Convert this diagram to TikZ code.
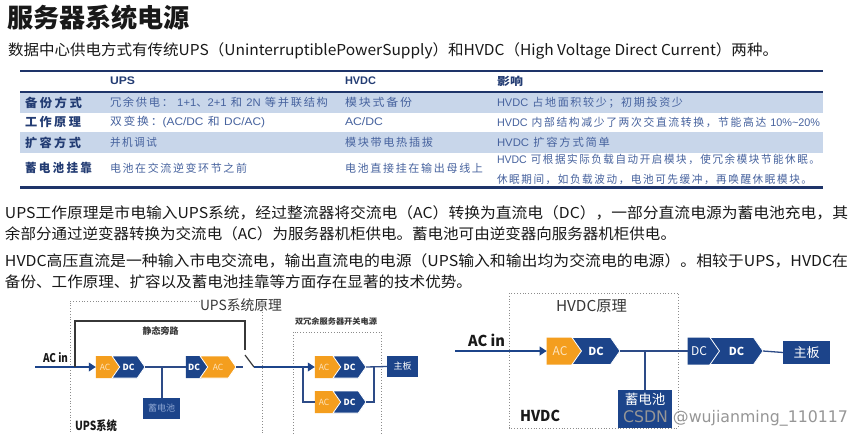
\documentclass[tikz,border=0pt]{standalone}
\usepackage{fontspec}
\usepackage{graphicx}
\setmainfont{Noto Sans CJK SC}
\newfontfamily\cjkt[LetterSpace=15]{Noto Sans CJK SC}
\newfontfamily\cjkh[LetterSpace=20]{Noto Sans CJK SC}
\newfontfamily\latf{Liberation Sans}
\newfontfamily\wmf{DejaVu Sans}
\usetikzlibrary{shapes.symbols,arrows.meta}
\definecolor{ink}{RGB}{25,25,25}
\definecolor{ink2}{RGB}{55,55,55}
\definecolor{navy}{RGB}{30,52,105}
\definecolor{tabfill}{RGB}{200,214,234}
\definecolor{tabtext}{RGB}{70,98,158}
\definecolor{tabhead}{RGB}{35,60,115}
\definecolor{bblue}{RGB}{28,68,138}
\definecolor{borange}{RGB}{244,158,30}
\definecolor{lightor}{RGB}{253,228,190}
\definecolor{battxt}{RGB}{140,165,210}
\definecolor{wire}{RGB}{45,75,135}
\definecolor{dotgray}{RGB}{140,140,140}
\definecolor{wmgray}{RGB}{150,150,150}
\newcommand\fw[2]{\resizebox{#1}{\height}{#2}}
\newcommand\fs[1]{\fontsize{#1}{#1}\selectfont}
\begin{document}
\begin{tikzpicture}[x=1pt,y=-1pt,
  txt/.style={anchor=west, inner sep=0pt, outer sep=0pt},
  ctxt/.style={inner sep=0pt, outer sep=0pt},
  tc1/.style={txt, font=\fs{12}\cjkh\bfseries, text=tabhead},
  tcell/.style={txt, font=\fs{11}\cjkt, text=tabtext},
  thead/.style={txt, font=\fs{11}\bfseries, text=tabhead},
  blk/.style={signal, signal to=east, signal pointer angle=110, inner sep=0pt, outer sep=0pt, minimum height=22pt, text=white},
  notch/.style={signal from=west, draw=white, line width=0.8pt},
  acblk/.style={blk, fill=borange, text=lightor},
  dcblk/.style={blk, fill=bblue, text=white},
  boxblk/.style={rectangle, fill=bblue, inner sep=0pt, outer sep=0pt, text=white},
  wireline/.style={draw=wire, line width=1.3pt},
  bigarrow/.style={draw=bblue, line width=2.6pt, -{Triangle[length=7pt,width=8.5pt]}},
  dotbox/.style={draw=dotgray, line width=0.8pt, dotted}]
\useasboundingbox (0,0) rectangle (865,434);
\fill[white] (0,0) rectangle (865,434);

% ---------- heading ----------
\node[txt, font=\fs{26}\bfseries, text=ink] (title) at (7,18) {\fw{183pt}{服务器系统电源}};
\node[txt, font=\fs{15}, text=ink] (intro) at (8,51) {\fw{770pt}{数据中心供电方式有传统UPS（UninterruptiblePowerSupply）和HVDC（High Voltage Direct Current）两种。}};

% ---------- table ----------
\fill[tabfill] (20,92) rectangle (823,113);
\fill[tabfill] (20,132) rectangle (823,153);
\draw[navy, line width=1.8pt] (20,71) -- (823,71);
\draw[navy, line width=2pt] (20,91.5) -- (823,91.5);
\draw[navy, line width=2.6pt] (20,187.5) -- (823,187.5);

\node[thead] (h2) at (110,81) {\fw{25pt}{\latf UPS}};
\node[thead] (h3) at (345,81) {\fw{31pt}{\latf HVDC}};
\node[thead] (h4) at (497,81) {\fw{26pt}{影响}};

\node[tc1] (r1c1) at (25,102.5) {\fw{57pt}{备份方式}};
\node[tcell] (r1c2) at (110,102.5) {\fw{218pt}{冗余供电：\ {\latf 1+1}、{\latf 2+1} 和 {\latf 2N} 等并联结构}};
\node[tcell] (r1c3) at (345,102.5) {\fw{67pt}{模块式备份}};
\node[tcell] (r1c4) at (497,102.5) {\fw{186pt}{{\latf HVDC} 占地面积较少；初期投资少}};

\node[tc1] (r2c1) at (25,122) {\fw{56pt}{工作原理}};
\node[tcell] (r2c2) at (110,122) {\fw{155pt}{双变换：{\latf (AC/DC} 和 {\latf DC/AC)}}};
\node[tcell] (r2c3) at (345,122) {\fw{38pt}{\latf AC/DC}};
\node[tcell] (r2c4) at (497,122) {\fw{323pt}{{\latf HVDC} 内部结构减少了两次交直流转换，节能高达 {\latf 10\%\textasciitilde20\%}}};

\node[tc1] (r3c1) at (25,142.5) {\fw{56pt}{扩容方式}};
\node[tcell] (r3c2) at (110,142.5) {\fw{47pt}{并机调试}};
\node[tcell] (r3c3) at (345,142.5) {\fw{88pt}{模块带电热插拔}};
\node[tcell] (r3c4) at (497,142.5) {\fw{113pt}{{\latf HVDC} 扩容方式简单}};

\node[tc1] (r4c1) at (25,168) {\fw{67pt}{蓄电池挂靠}};
\node[tcell] (r4c2) at (110,168) {\fw{137pt}{电池在交流逆变环节之前}};
\node[tcell] (r4c3) at (345,168) {\fw{138pt}{电池直接挂在输出母线上}};
\node[tcell] (r4c4a) at (497,159) {\fw{323pt}{{\latf HVDC} 可根据实际负载自动开启模块，使冗余模块节能休眠。}};
\node[tcell] (r4c4b) at (497,179) {\fw{315pt}{休眠期间，如负载波动，电池可先缓冲，再唤醒休眠模块。}};

% ---------- paragraphs ----------
\node[txt, font=\fs{15}, text=ink] (p1) at (5,213) {\fw{843pt}{UPS工作原理是市电输入UPS系统，经过整流器将交流电（AC）转换为直流电（DC），一部分直流电源为蓄电池充电，其}};
\node[txt, font=\fs{15}, text=ink] (p2) at (5,234) {\fw{671pt}{余部分通过逆变器转换为交流电（AC）为服务器机柜供电。蓄电池可由逆变器向服务器机柜供电。}};
\node[txt, font=\fs{15}, text=ink] (p3) at (5,261) {\fw{843pt}{HVDC高压直流是一种输入市电交流电，输出直流电的电源（UPS输入和输出均为交流电的电源）。相较于UPS，HVDC在}};
\node[txt, font=\fs{15}, text=ink] (p4) at (5,282) {\fw{467pt}{备份、工作原理、扩容以及蓄电池挂靠等方面存在显著的技术优势。}};

% ---------- UPS diagram ----------
\draw[dotbox] (200,301) -- (70,301) -- (70,434);
\draw[dotbox] (262,312) -- (262,434);
\draw[dotbox] (293,434) -- (293,332) -- (381,332) -- (381,434);
\node[txt, font=\fs{14}, text=ink2] (upstitle) at (200,305) {\fw{82pt}{UPS系统原理}};
\node[txt, font=\fs{8}\bfseries, text=ink2] (dualtitle) at (295,321) {\fw{82pt}{双冗余服务器开关电源}};
\node[ctxt, font=\fs{9}\bfseries, text=ink2] (bypasslbl) at (160.5,331) {静态旁路};
\node[txt, font=\fs{12}\bfseries, text=ink] (acin1) at (43,358) {\fw{25pt}{AC in}};
\node[txt, font=\fs{12.5}\bfseries, text=ink] (upssys) at (75,426) {\fw{42pt}{UPS系统}};

\node[acblk, minimum width=26pt, font=\fs{8.5}] (ac1) at (105,367) {AC};
\node[dcblk, notch, minimum width=33pt, font=\fs{8.5}\bfseries] (dc1) at (128.5,367) {DC};
\node[dcblk, minimum width=24pt, font=\fs{8.5}\bfseries] (dc2) at (194,367) {DC};
\node[acblk, notch, minimum width=36pt, font=\fs{8.5}] (ac2) at (218,367) {AC};
\node[boxblk, minimum width=37pt, minimum height=21pt, text=battxt, font=\fs{9}] (bat1) at (161.5,408.5) {蓄电池};

\coordinate (in1) at (35,367);
\coordinate (j1) at (162,367);
\coordinate (bp0) at (75,367);
\coordinate (bp1) at (245,321);
\coordinate (sw0) at (245,350);
\coordinate (swin) at (243,367);
\coordinate (bla) at (245,355);
\coordinate (blb) at (254,367);

\draw[bigarrow] (in1) -- (ac1.west);
\draw[wireline] (dc1.east) -- (dc2.west);
\draw[wireline] (j1) -- (j1 |- bat1.north);
\draw[draw=ink2, line width=1.2pt] (bp0) |- (bp1) -- (sw0);
\draw[wireline] (ac2.east) -- (swin);
\draw[draw=ink2, line width=1.2pt] (bla) -- (blb);

\node[acblk, minimum width=26pt, font=\fs{8.5}] (ac3) at (324,367) {AC};
\node[dcblk, notch, minimum width=33pt, font=\fs{8.5}\bfseries] (dc3) at (349.5,367) {DC};
\node[acblk, minimum width=26pt, font=\fs{8.5}] (ac4) at (324,402) {AC};
\node[dcblk, notch, minimum width=33pt, font=\fs{8.5}\bfseries] (dc4) at (349.5,402) {DC};
\node[boxblk, minimum width=31pt, minimum height=21pt, font=\fs{9}] (mb1) at (402.5,366.5) {主板};

\coordinate (br) at (303,367);
\coordinate (mg) at (374,367);
\draw[bigarrow] (blb) -- (ac3.west);
\draw[wireline] (br) |- (ac4.west);
\draw[wireline] (dc3.east) -- (mb1.west);
\draw[wireline] (dc4.east) -| (mg);

% ---------- HVDC diagram ----------
\draw[dotbox] (509,293) rectangle (678,428);
\node[ctxt, font=\fs{15}, text=ink2] (hvdctitle) at (591.5,306) {\fw{71pt}{HVDC原理}};
\node[txt, font=\fs{15}\bfseries, text=ink] (acin2) at (468,340) {\fw{37pt}{AC in}};
\node[txt, font=\fs{15}\bfseries, text=ink] (hvdclbl) at (520,416) {\fw{40pt}{HVDC}};

\node[acblk, minimum width=36pt, minimum height=27pt, font=\fs{12}] (hac) at (560,351) {AC};
\node[dcblk, notch, minimum width=48pt, minimum height=27pt, font=\fs{11}\bfseries] (hdc) at (596,351) {DC};
\node[dcblk, minimum width=32pt, minimum height=27pt, font=\fs{12}] (hdc1) at (699,351) {DC};
\node[dcblk, notch, minimum width=53pt, minimum height=27pt, font=\fs{11}\bfseries] (hdc2) at (736.5,351) {DC};
\node[boxblk, minimum width=47pt, minimum height=23pt, font=\fs{13}] (hmb) at (806.5,352.5) {主板};
\node[boxblk, minimum width=54pt, minimum height=38pt] (hbat) at (645,409) {};
\node[ctxt, font=\fs{13.5}, text=white] (hbatlbl) at (645,399) {蓄电池};

\coordinate (in2) at (455,351);
\coordinate (hj) at (645,351);
\draw[bigarrow] (in2) -- (hac.west);
\draw[wireline] (hdc.east) -- (hdc1.west);
\draw[wireline] (hj) -- (hbat.north);
\draw[wireline] (hdc2.east) -- (hmb.west);

\node[txt, font=\fs{16}\wmf, text=wmgray] (wm) at (623,418.5) {\fw{225pt}{CSDN @wujianming\_110117}};
\end{tikzpicture}
\end{document}
